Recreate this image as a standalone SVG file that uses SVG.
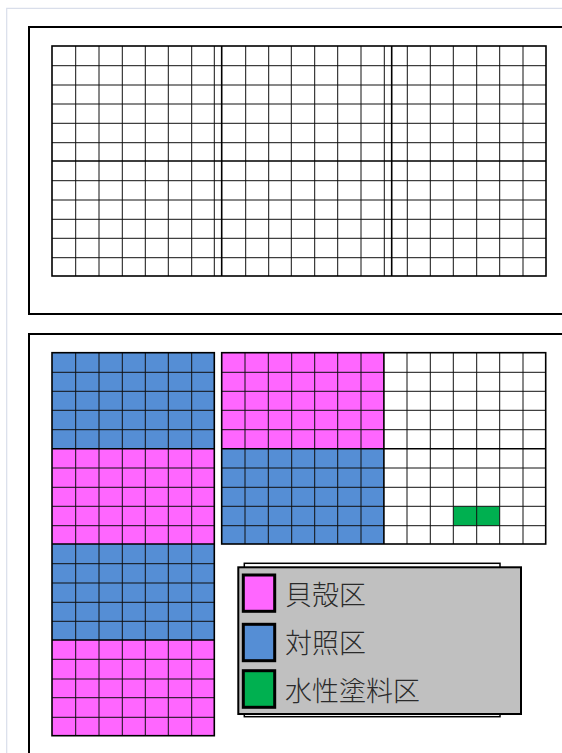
<svg xmlns="http://www.w3.org/2000/svg" width="562" height="753" viewBox="0 0 562 753">
<style>
.pg{fill:none;stroke:#d9deea;stroke-width:1.2}
.frame{fill:none;stroke:#000;stroke-width:2}
.thin{fill:none;stroke:#111;stroke-width:1}
.thick{fill:none;stroke:#000;stroke-width:1.6}
.border{fill:none;stroke:#000;stroke-width:1.6}
.pink{fill:#ff66ff}
.blue{fill:#558ed5}
.green{fill:#00b050}
.white{fill:#fff}
.sw{stroke:#000;stroke-width:3}
.lg{font-family:"Noto Sans CJK JP","Noto Sans CJK SC",sans-serif;font-size:27px;font-weight:300;fill:#2a2a2a}
</style>
<rect width="562" height="753" fill="#fff"/>
<path class="pg" d="M6.7 753V8.3H562"/>
<g id="frame-top"><rect class="frame" x="29" y="27" width="560" height="287"/></g>
<g id="frame-bottom"><rect class="frame" x="29" y="334" width="560" height="450"/></g>

<g id="upper-grid">
<rect class="white" x="52" y="46" width="494" height="230"/>
<path class="thin" d="M52 65.7H546M52 85H546M52 104H546M52 123.3H546M52 142.7H546M52 180.7H546M52 200H546M52 219.3H546M52 238.3H546M52 257.7H546"/>
<path class="thin" d="M75.7 46V276M99 46V276M122.3 46V276M145.3 46V276M168.3 46V276M191.7 46V276M214.3 46V276M245.7 46V276M268.7 46V276M291.3 46V276M314.7 46V276M337.7 46V276M361 46V276M384.3 46V276M407.3 46V276M430.3 46V276M453.3 46V276M476.7 46V276M499.7 46V276M523 46V276"/>
<path class="thick" d="M52 161H546M221.7 46V276M391.7 46V276"/>
<rect class="border" x="52" y="46" width="494" height="230"/>
</g>

<g id="left-column">
<rect class="blue" x="52" y="352.7" width="162.3" height="96"/>
<rect class="pink" x="52" y="448.7" width="162.3" height="95.3"/>
<rect class="blue" x="52" y="544" width="162.3" height="96"/>
<rect class="pink" x="52" y="640" width="162.3" height="95.7"/>
<path class="thin" d="M75.7 352.7V735.7M99 352.7V735.7M122.3 352.7V735.7M145.3 352.7V735.7M168.3 352.7V735.7M191.7 352.7V735.7"/>
<path class="thin" d="M52 372.3H214.3M52 391.3H214.3M52 410.3H214.3M52 429.7H214.3M52 468H214.3M52 487.3H214.3M52 506.3H214.3M52 525.7H214.3M52 563.7H214.3M52 583H214.3M52 602.3H214.3M52 621.3H214.3M52 659.3H214.3M52 679H214.3M52 697.7H214.3M52 717.3H214.3"/>
<path class="thick" d="M52 448.7H214.3M52 544H214.3M52 640H214.3"/>
<rect class="border" x="52" y="352.7" width="162.3" height="383"/>
</g>

<g id="right-grid">
<rect class="white" x="221.7" y="352.7" width="324" height="191.3"/>
<rect class="pink" x="221.7" y="352.7" width="162.2" height="96"/>
<rect class="blue" x="221.7" y="448.7" width="162.2" height="95.3"/>
<rect class="green" x="453.3" y="506.3" width="46.4" height="19.4"/>
<path class="thin" d="M245 352.7V544M268.3 352.7V544M291.7 352.7V544M314.7 352.7V544M337.7 352.7V544M361 352.7V544M407 352.7V544M430.3 352.7V544M453.3 352.7V544M476.7 352.7V544M499.7 352.7V544M523 352.7V544"/>
<path class="thin" d="M221.7 372.3H545.7M221.7 391.3H545.7M221.7 410.3H545.7M221.7 429.7H545.7M221.7 468H545.7M221.7 487.3H545.7M221.7 506.3H545.7M221.7 525.7H545.7"/>
<path class="thick" d="M221.7 448.7H545.7M383.9 352.7V544"/>
<rect class="border" x="221.7" y="352.7" width="324" height="191.3"/>
</g>

<g id="legend">
<rect x="244.3" y="563.3" width="255.7" height="153.4" fill="#fff" stroke="#000" stroke-width="1.5"/>
<rect x="238.3" y="567.3" width="282.7" height="146.7" fill="#c0c0c0" stroke="#000" stroke-width="2"/>
<g id="legend-shell">
<rect class="pink sw" x="243.3" y="575" width="31.4" height="36.3"/>
<text class="lg" x="285" y="604.5">貝殻区</text>
</g>
<g id="legend-control">
<rect class="blue sw" x="243.3" y="624.3" width="31.4" height="36.4"/>
<text class="lg" x="285" y="653">対照区</text>
</g>
<g id="legend-paint">
<rect class="green sw" x="243.3" y="670.7" width="31.4" height="36.6"/>
<text class="lg" x="285" y="701.3">水性塗料区</text>
</g>
</g>
</svg>
